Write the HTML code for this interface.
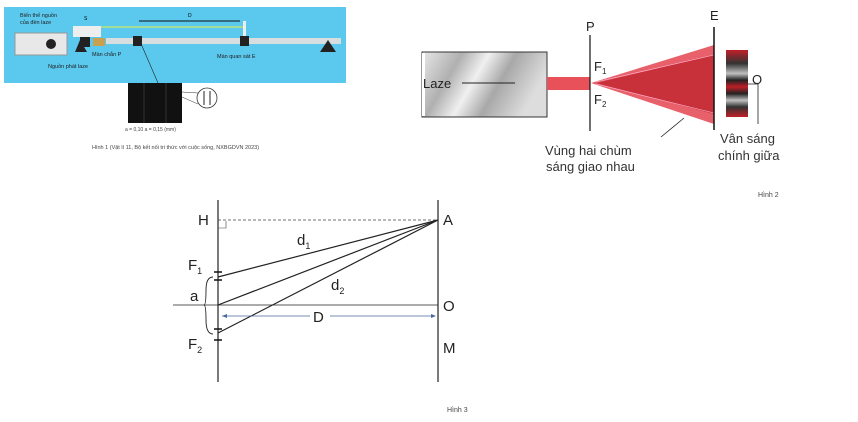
<!DOCTYPE html>
<html><head><meta charset="utf-8"><style>
body{margin:0;background:#fff;width:858px;height:417px;overflow:hidden}
svg text{font-family:"Liberation Sans",sans-serif}
</style></head><body>
<svg width="858" height="417" viewBox="0 0 858 417" xmlns="http://www.w3.org/2000/svg">
<defs>
<linearGradient id="g1" x1="0" x2="1" y1="0" y2="0.3">
<stop offset="0" stop-color="#e8e8e8"/><stop offset="0.3" stop-color="#b0b0b0"/><stop offset="0.5" stop-color="#f0f0f0"/><stop offset="0.7" stop-color="#a8a8a8"/><stop offset="1" stop-color="#ddd"/></linearGradient>
<linearGradient id="fr" x1="0" x2="0" y1="0" y2="1">
<stop offset="0" stop-color="#c02028"/><stop offset="0.2" stop-color="#333"/><stop offset="0.35" stop-color="#c0c0c0"/><stop offset="0.45" stop-color="#222"/><stop offset="0.55" stop-color="#c02028"/><stop offset="0.65" stop-color="#222"/><stop offset="0.75" stop-color="#c0c0c0"/><stop offset="0.85" stop-color="#333"/><stop offset="1" stop-color="#c02028"/></linearGradient>
</defs>
<!-- Figure 1 -->
<rect x="4" y="7" width="342" height="76" fill="#5bc8ee"/>
<rect x="15" y="33" width="52" height="22" fill="#e8e8e8" stroke="#999"/>
<circle cx="51" cy="44" r="5" fill="#222"/>
<rect x="73" y="26" width="28" height="11" fill="#eee"/>
<line x1="101" y1="27" x2="244" y2="27" stroke="#e8f040" stroke-width="1"/>
<rect x="106" y="38" width="235" height="6" fill="#d8dde0"/>
<rect x="93" y="38" width="12" height="8" fill="#c8a050"/>
<polygon points="320,52 328,40 336,52" fill="#222"/>
<polygon points="75,52 80,40 87,52" fill="#222"/>
<rect x="80" y="37" width="10" height="10" fill="#222"/>
<rect x="133" y="36" width="9" height="10" fill="#222"/>
<rect x="240" y="36" width="9" height="10" fill="#222"/>
<rect x="243" y="21" width="3" height="15" fill="#eee"/>
<line x1="139" y1="21" x2="240" y2="21" stroke="#111" stroke-width="1"/>
<text x="188" y="17" font-size="5">D</text>
<text x="20" y="17" font-size="5.5" fill="#222">Biến thế nguồn</text>
<text x="20" y="24" font-size="5.5" fill="#222">của đèn laze</text>
<text x="84" y="20" font-size="5">S</text>
<text x="92" y="56" font-size="5.5" fill="#222">Màn chắn P</text>
<text x="217" y="58" font-size="5.5" fill="#222">Màn quan sát E</text>
<text x="48" y="68" font-size="5.5" fill="#222">Nguồn phát laze</text>
<line x1="142" y1="46" x2="158" y2="83" stroke="#222" stroke-width="0.6"/>
<rect x="128" y="83" width="54" height="40" fill="#111"/>
<line x1="144" y1="83" x2="144" y2="123" stroke="#555" stroke-width="0.5"/>
<line x1="166" y1="83" x2="166" y2="123" stroke="#555" stroke-width="0.5"/>
<circle cx="207" cy="98" r="10" fill="#fff" stroke="#333" stroke-width="0.8"/>
<line x1="204" y1="91" x2="204" y2="105" stroke="#222"/><line x1="210" y1="91" x2="210" y2="105" stroke="#222"/>
<line x1="182" y1="92" x2="198" y2="93" stroke="#333" stroke-width="0.5"/>
<line x1="182" y1="97" x2="198" y2="104" stroke="#333" stroke-width="0.5"/>
<text x="125" y="131" font-size="5" fill="#444">a = 0,10    a = 0,15 (mm)</text>
<text x="92" y="149" font-size="5.5" fill="#444">Hình 1 (Vật lí 11, Bộ kết nối tri thức với cuộc sống, NXBGDVN 2023)</text>

<!-- Figure 2 -->
<rect x="422" y="52" width="125" height="65" fill="url(#g1)" stroke="#333" stroke-width="1"/>
<rect x="422" y="53" width="3" height="63" fill="#fff"/>
<text x="423" y="88" font-size="13" fill="#222">Laze</text>
<line x1="462" y1="83" x2="515" y2="83" stroke="#222" stroke-width="1"/>
<rect x="547" y="77" width="43" height="13" fill="#e8505a"/>
<polygon points="591,83 714,45 714,124" fill="#e8606a"/>
<polygon points="596,83 714,55 714,114" fill="#c8303a"/>
<line x1="596" y1="82" x2="714" y2="55" stroke="#fbd" stroke-width="0.6"/>
<line x1="596" y1="84" x2="714" y2="113" stroke="#fbd" stroke-width="0.6"/>
<line x1="590" y1="35" x2="590" y2="131" stroke="#111" stroke-width="1.2"/>
<line x1="714" y1="27" x2="714" y2="130" stroke="#111" stroke-width="1.5"/>
<text x="586" y="31" font-size="13" fill="#222">P</text>
<text x="710" y="20" font-size="13" fill="#222">E</text>
<text x="594" y="71" font-size="13" fill="#222">F<tspan font-size="8" dy="3">1</tspan></text>
<text x="594" y="104" font-size="13" fill="#222">F<tspan font-size="8" dy="3">2</tspan></text>
<rect x="726" y="50" width="22" height="67" fill="url(#fr)"/>
<text x="752" y="84" font-size="13" fill="#222">O</text>
<polyline points="748,84 758,84 758,124" fill="none" stroke="#222" stroke-width="0.8"/>
<line x1="661" y1="137" x2="684" y2="118" stroke="#222" stroke-width="0.8"/>
<text x="545" y="155" font-size="13" fill="#333">Vùng hai chùm</text>
<text x="546" y="171" font-size="13" fill="#333">sáng giao nhau</text>
<text x="720" y="143" font-size="13" fill="#333">Vân sáng</text>
<text x="718" y="160" font-size="13" fill="#333">chính giữa</text>
<text x="758" y="197" font-size="7" fill="#444">Hình 2</text>

<!-- Figure 3 -->
<line x1="218" y1="200" x2="218" y2="382" stroke="#222" stroke-width="1.2"/>
<line x1="438" y1="200" x2="438" y2="382" stroke="#222" stroke-width="1.2"/>
<line x1="218" y1="220" x2="438" y2="220" stroke="#444" stroke-width="0.8" stroke-dasharray="3,2"/>
<polyline points="218,228 226,228 226,221" fill="none" stroke="#444" stroke-width="0.6"/>
<line x1="173" y1="305" x2="438" y2="305" stroke="#222" stroke-width="0.8"/>
<line x1="214" y1="272" x2="222" y2="272" stroke="#111" stroke-width="1.5"/>
<line x1="214" y1="280" x2="222" y2="280" stroke="#111" stroke-width="1.5"/>
<line x1="214" y1="329" x2="222" y2="329" stroke="#111" stroke-width="1.5"/>
<line x1="214" y1="340" x2="222" y2="340" stroke="#111" stroke-width="1.5"/>
<line x1="218" y1="277" x2="438" y2="220" stroke="#222" stroke-width="1.2"/>
<line x1="218" y1="305" x2="438" y2="220" stroke="#222" stroke-width="1.2"/>
<line x1="218" y1="333" x2="438" y2="220" stroke="#222" stroke-width="1.2"/>
<path d="M213,277 Q206,277 206,290 Q206,305 204,305 Q206,305 206,320 Q206,334 213,334" fill="none" stroke="#222" stroke-width="0.9"/>
<line x1="222" y1="316" x2="435" y2="316" stroke="#4a6a9a" stroke-width="0.7"/>
<polygon points="222,316 227,314 227,318" fill="#4a6a9a"/>
<polygon points="436,316 431,314 431,318" fill="#4a6a9a"/>
<rect x="310" y="308" width="20" height="14" fill="#fff"/>
<text x="313" y="322" font-size="15" fill="#222">D</text>
<text x="198" y="225" font-size="15" fill="#222">H</text>
<text x="443" y="225" font-size="15" fill="#222">A</text>
<text x="443" y="311" font-size="15" fill="#222">O</text>
<text x="443" y="353" font-size="15" fill="#222">M</text>
<text x="188" y="270" font-size="15" fill="#222">F<tspan font-size="9" dy="4">1</tspan></text>
<text x="188" y="349" font-size="15" fill="#222">F<tspan font-size="9" dy="4">2</tspan></text>
<text x="190" y="301" font-size="15" fill="#222">a</text>
<text x="297" y="245" font-size="15" fill="#222">d<tspan font-size="9" dy="4">1</tspan></text>
<text x="331" y="290" font-size="15" fill="#222">d<tspan font-size="9" dy="4">2</tspan></text>
<text x="447" y="412" font-size="7" fill="#444">Hình 3</text>
</svg>
</body></html>
